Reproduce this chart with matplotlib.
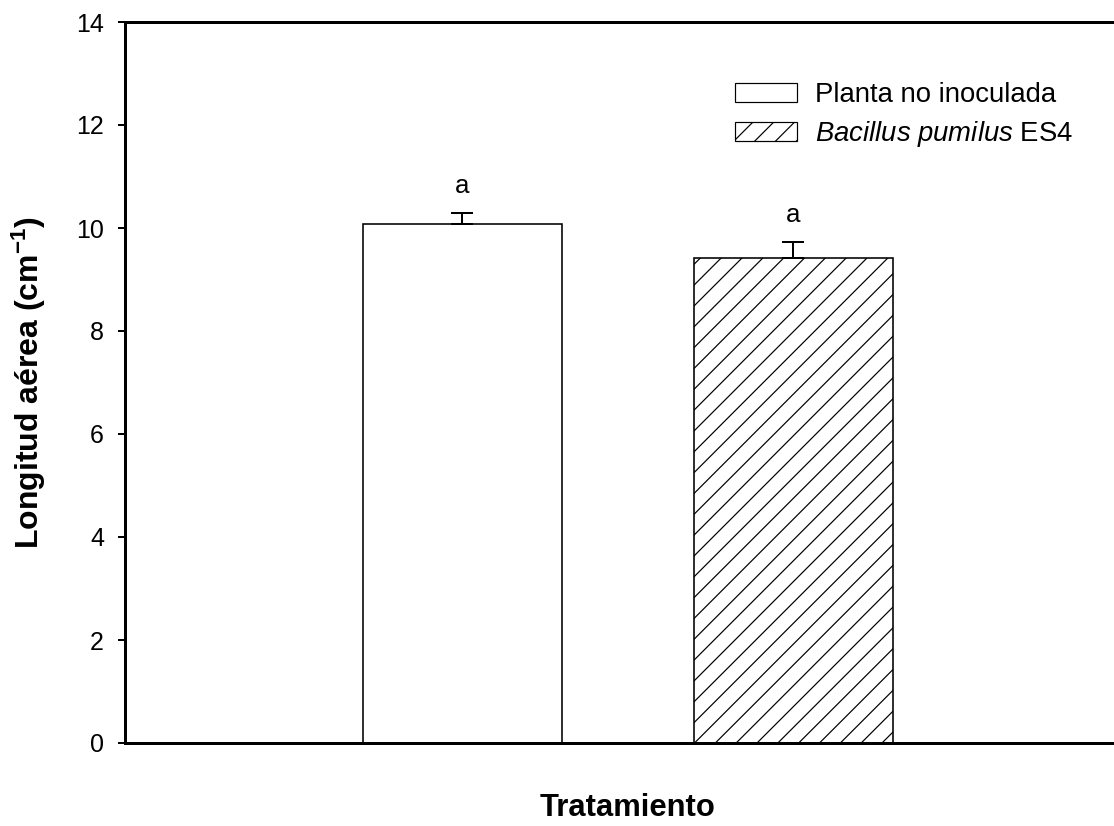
import matplotlib
matplotlib.use("Agg")
import matplotlib.pyplot as plt
from matplotlib.patches import Patch

# Data
treatments = ["Planta no inoculada", "Bacillus pumilus ES4"]
means = [10.08, 9.42]
errors = [0.21, 0.31]
letters = ["a", "a"]
hatches = ["", "//"]
yticks = [0, 2, 4, 6, 8, 10, 12, 14]

DPI = 125
PX = 72.0 / DPI  # points per pixel

plt.rcParams["font.family"] = ["Liberation Sans", "DejaVu Sans"]
plt.rcParams["mathtext.fontset"] = "custom"
plt.rcParams["mathtext.rm"] = "Liberation Sans"
plt.rcParams["mathtext.it"] = "Liberation Sans:italic"
plt.rcParams["mathtext.bf"] = "Liberation Sans:bold"
plt.rcParams["hatch.linewidth"] = 1.2 * PX

fig = plt.figure(figsize=(1114 / DPI, 826 / DPI), dpi=DPI)
W, H = 1114.0, 826.0
left_px, right_px, top_px, bot_px = 125, 1130, 22, 743
ax = fig.add_axes([left_px / W, 1 - bot_px / H,
                   (right_px - left_px) / W, (bot_px - top_px) / H])

x = [0, 1]
bar_w = 0.60
for xi, m, e, h in zip(x, means, errors, hatches):
    ax.bar(xi, m, width=bar_w, color="white", edgecolor="black",
           linewidth=1.6 * PX, hatch=h, zorder=2)
    ax.errorbar(xi, m, yerr=[[0], [e]], fmt="none", ecolor="black",
                elinewidth=2.0 * PX, capsize=11 * PX,
                capthick=2.0 * PX, zorder=3)

for xi, m, e, t in zip(x, means, errors, letters):
    ax.annotate(t, (xi, m + e), xytext=(0, 20 * PX), textcoords="offset points",
                ha="center", va="baseline", fontsize=26 * PX)

scale = 331.0
ax.set_xlim((left_px - 462.5) / scale, (right_px - 462.5) / scale)
ax.set_ylim(0, 14)
ax.set_yticks(yticks)
ax.set_xticks([])
ax.tick_params(axis="y", direction="out", length=7 * PX, width=2 * PX,
               pad=14 * PX, labelsize=25 * PX)
for sp in ax.spines.values():
    sp.set_linewidth(3 * PX)

ax.set_ylabel(r"Longitud aérea (cm$^{\mathregular{-1}}$)", weight="bold",
              fontsize=32 * PX)
ax.yaxis.set_label_coords(29 / W, 1 - 383 / H, transform=fig.transFigure)
ax.yaxis.label.set_va("center")
ax.set_xlabel("Tratamiento", weight="bold", fontsize=31 * PX)
ax.xaxis.set_label_coords(628 / W, 1 - 808 / H, transform=fig.transFigure)
ax.xaxis.label.set_va("center")

handles = [Patch(facecolor="white", edgecolor="black", linewidth=1.2 * PX, hatch=h)
           for h in hatches]
legend_labels = ["Planta no inoculada", r"$\it{Bacillus\ pumilus}$ ES4"]
ax.legend(handles, legend_labels, loc="upper left",
          bbox_to_anchor=(735 / W, 1 - 82 / H), bbox_transform=fig.transFigure,
          frameon=False, fontsize=27.5 * PX, borderpad=0, borderaxespad=0,
          handlelength=2.25, handleheight=0.68, handletextpad=0.65,
          labelspacing=0.4)

fig.savefig("out.png", dpi=DPI)
